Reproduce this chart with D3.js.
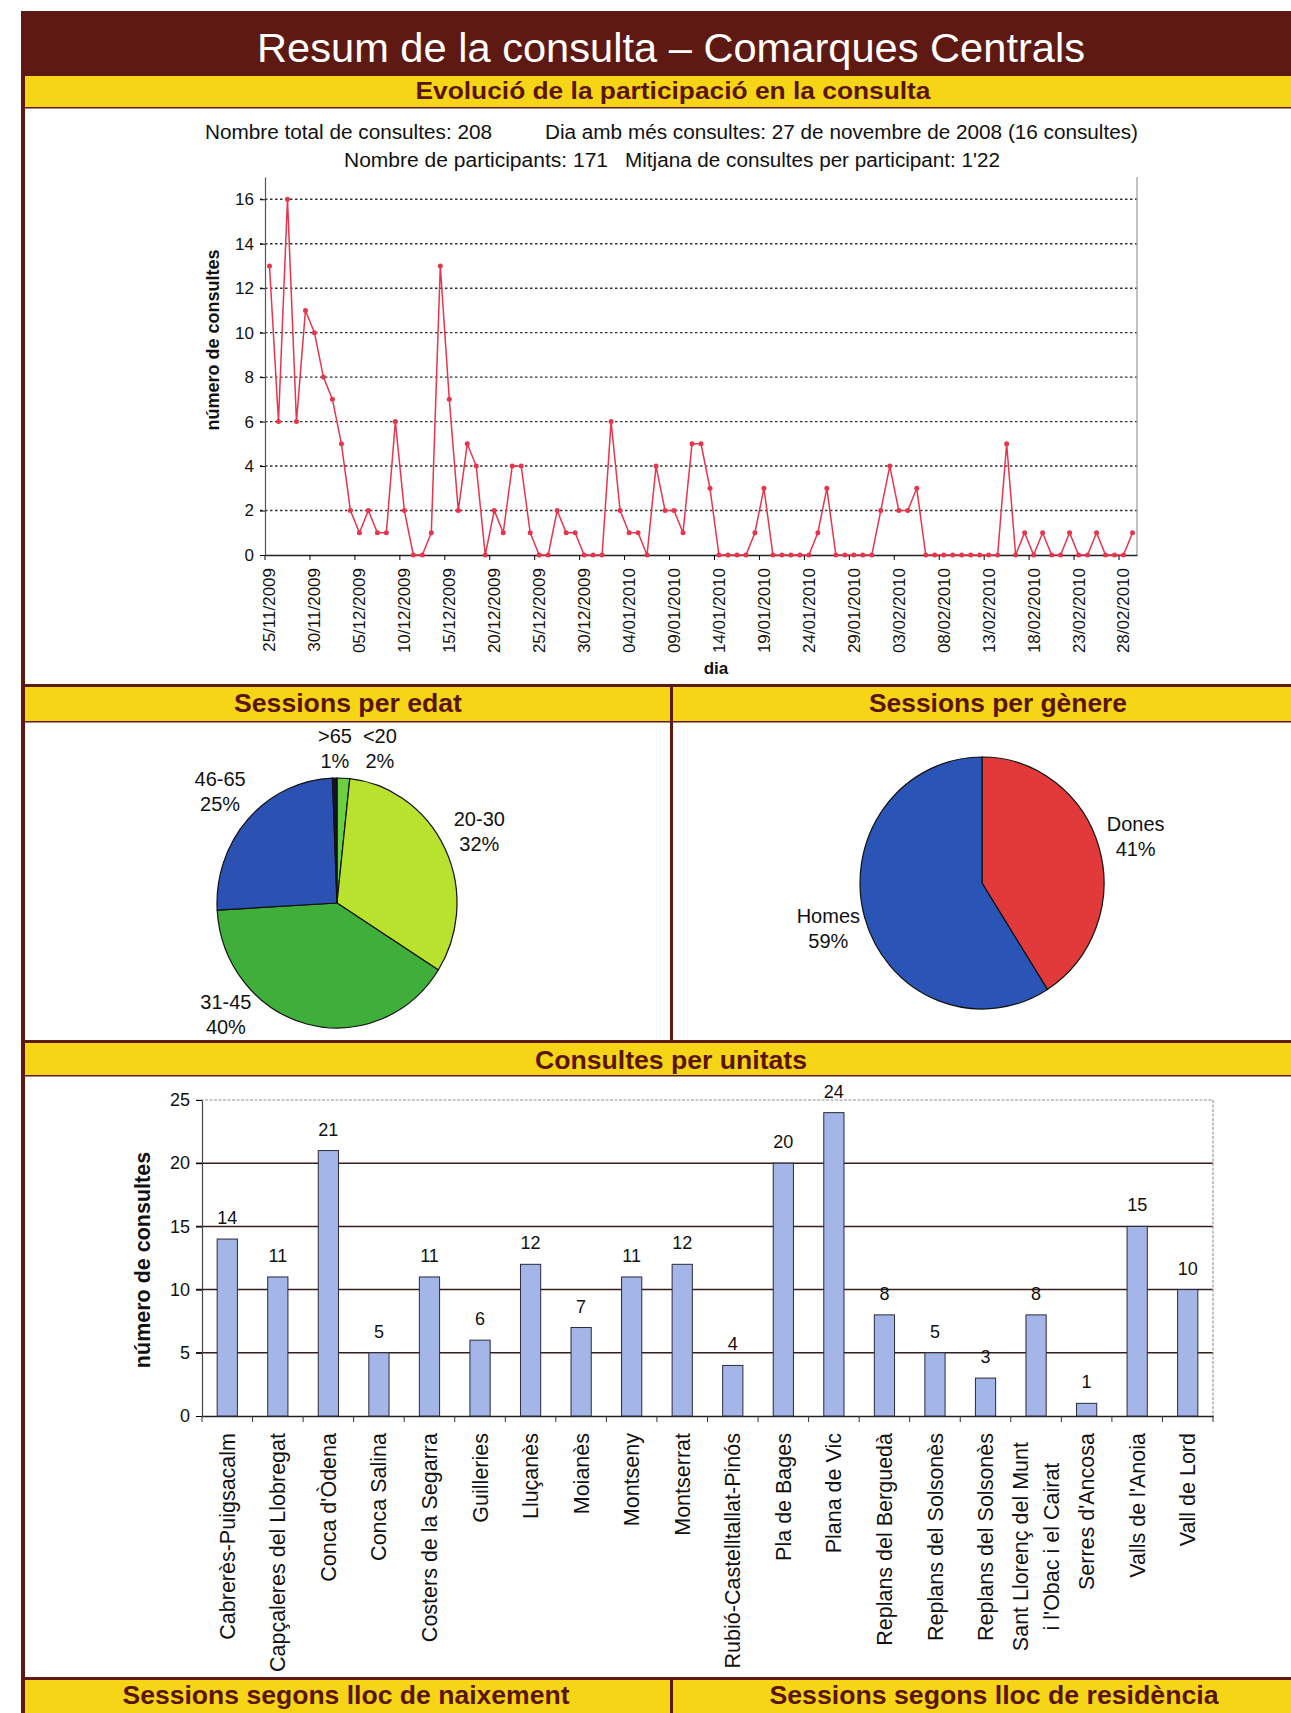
<!DOCTYPE html>
<html>
<head>
<meta charset="utf-8">
<script src="https://cdn.jsdelivr.net/npm/d3@7"></script>
<style>
	body { margin: 0; background: #fff; }
	text { font-family: "Liberation Sans", Arial, sans-serif; }
</style>
</head>
<body>
<svg id="page"></svg>
<script>
// Resum de la consulta - Comarques Centrals

// ---- data ----
var startDay = new Date(2009, 10, 25);
var dailyCounts = [13, 6, 16, 6, 11, 10, 8, 7, 5, 2,
	1, 2, 1, 1, 6, 2, 0, 0, 1, 13,
	7, 2, 5, 4, 0, 2, 1, 4, 4, 1,
	0, 0, 2, 1, 1, 0, 0, 0, 6, 2,
	1, 1, 0, 4, 2, 2, 1, 5, 5, 3,
	0, 0, 0, 0, 1, 3, 0, 0, 0, 0,
	0, 1, 3, 0, 0, 0, 0, 0, 2, 4,
	2, 2, 3, 0, 0, 0, 0, 0, 0, 0,
	0, 0, 5, 0, 1, 0, 1, 0, 0, 1,
	0, 0, 1, 0, 0, 0, 1];
var dayTickStep = 5;
var lineYTicks = [0, 2, 4, 6, 8, 10, 12, 14, 16];

var ageGroups = ["<20", "20-30", "31-45", "46-65", ">65"];
var agePercent = [1.7, 32.3, 40.1, 25.3, 0.6];

var genderGroups = ["Dones", "Homes"];
var genderPercent = [41, 59];

var units = ["Cabrerès-Puigsacalm", "Capçaleres del Llobregat", "Conca d'Òdena", "Conca Salina",
	"Costers de la Segarra", "Guilleries", "Lluçanès", "Moianès", "Montseny", "Montserrat",
	"Rubió-Castelltallat-Pinós", "Pla de Bages", "Plana de Vic", "Replans del Berguedà",
	"Replans del Solsonès", "Replans del Solsonès", "Sant Llorenç del Munt\ni l'Obac i el Cairat",
	"Serres d'Ancosa", "Valls de l'Anoia", "Vall de Lord"];
var unitCounts = [14, 11, 21, 5, 11, 6, 12, 7, 11, 12, 4, 20, 24, 8, 5, 3, 8, 1, 15, 10];
var barYTicks = [0, 5, 10, 15, 20, 25];

// ---- page ----
var W = 1291, H = 1713;
var MAROON = "#5e1912", YELLOW = "#f5d515", BAND_TEXT = "#5a1508", RED = "#e5364e";

var svg = d3.select("#page").attr("width", W).attr("height", H);
svg.append("rect").attr("width", W).attr("height", H).attr("fill", "#fff");

function createRect(x, y, w, h, fill) {
	return svg.append("rect")
		.attr("x", x).attr("y", y)
		.attr("width", w).attr("height", h)
		.attr("fill", fill);
}

function createText(str, x, y, size, opts) {
	opts = opts || {};
	var t = svg.append("text")
		.attr("x", x).attr("y", y)
		.attr("font-size", size)
		.attr("text-anchor", opts.anchor || "middle")
		.attr("font-weight", opts.bold ? "bold" : "normal")
		.attr("fill", opts.fill || "#111")
		.text(str);
	if (opts.len) t.attr("textLength", opts.len).attr("lengthAdjust", "spacingAndGlyphs");
	return t;
}

// frame and bands
createRect(21, 11, W - 21, 65, MAROON);
createRect(21, 11, 4, H - 11, MAROON);
createRect(25, 76, W - 25, 31, YELLOW);
createRect(25, 107, W - 25, 1.5, MAROON);

createRect(21, 684, W - 21, 3, MAROON);
createRect(25, 687, W - 25, 34, YELLOW);
createRect(25, 721, W - 25, 1.5, MAROON);
createRect(670, 684, 3, 357, MAROON);

createRect(21, 1040, W - 21, 3, MAROON);
createRect(25, 1043, W - 25, 32, YELLOW);
createRect(25, 1075, W - 25, 1.5, MAROON);

createRect(21, 1677, W - 21, 3, MAROON);
createRect(25, 1680, W - 25, 33, YELLOW);
createRect(670, 1677, 3, 36, MAROON);

createText("Resum de la consulta \u2013 Comarques Centrals", 671, 62, 41, {fill: "#fff", len: 828});
createText("Evolució de la participació en la consulta", 673, 99, 23, {bold: true, fill: BAND_TEXT, len: 515});
createText("Sessions per edat", 348, 712, 25, {bold: true, fill: BAND_TEXT, len: 228});
createText("Sessions per gènere", 998, 712, 25, {bold: true, fill: BAND_TEXT, len: 258});
createText("Consultes per unitats", 671, 1069, 25, {bold: true, fill: BAND_TEXT, len: 272});
createText("Sessions segons lloc de naixement", 346, 1704, 26, {bold: true, fill: BAND_TEXT, len: 447});
createText("Sessions segons lloc de residència", 994, 1704, 26, {bold: true, fill: BAND_TEXT, len: 449});

// summary lines
var total = d3.sum(dailyCounts);
var peak = d3.maxIndex(dailyCounts);
createText("Nombre total de consultes: " + total, 205, 139, 20, {anchor: "start", len: 287});
createText("Dia amb més consultes: 27 de novembre de 2008 (" + dailyCounts[peak] + " consultes)", 545, 139, 20, {anchor: "start", len: 593});
createText("Nombre de participants: 171", 344, 167, 20, {anchor: "start", len: 264});
createText("Mitjana de consultes per participant: 1'22", 625, 167, 20, {anchor: "start", len: 375});

// ---- line chart ----
var days = dailyCounts.map(function(d, i) { return d3.timeDay.offset(startDay, i); });
var fmtDay = d3.timeFormat("%d/%m/%Y");
var lx = d3.scaleBand().domain(d3.range(dailyCounts.length)).range([265, 1137]);
var ly = d3.scaleLinear().domain([0, 17]).range([555, 177]);
var lc = svg.append("g");

lc.selectAll("line.grid").data(lineYTicks.slice(1)).enter().append("line")
	.attr("x1", 260).attr("x2", 1137)
	.attr("y1", ly).attr("y2", ly)
	.attr("stroke", "#333").attr("stroke-width", 1.4)
	.attr("stroke-dasharray", "2.5,2.5");
lc.append("line")
	.attr("x1", 1137).attr("x2", 1137).attr("y1", 177).attr("y2", 555)
	.attr("stroke", "#999").attr("stroke-width", 1.2);

var gly = lc.append("g").attr("transform", "translate(265,0)")
	.call(d3.axisLeft(ly).tickValues(lineYTicks).tickSize(5).tickSizeOuter(0).tickPadding(6));
gly.select(".domain").attr("stroke", "#555").attr("stroke-width", 1.2);
gly.selectAll(".tick text").attr("font-size", 17).attr("font-family", "Liberation Sans, Arial").attr("fill", "#111");

var glx = lc.append("g").attr("transform", "translate(0,555)")
	.call(d3.axisBottom(lx)
		.tickValues(d3.range(0, dailyCounts.length, dayTickStep))
		.tickFormat(function(i) { return fmtDay(days[i]); })
		.tickSize(5).tickSizeOuter(0));
glx.select(".domain").attr("stroke", "#222").attr("stroke-width", 1.6);
glx.selectAll(".tick line").attr("transform", "translate(" + (-lx.bandwidth() / 2) + ",0)");
glx.selectAll(".tick text")
	.attr("transform", "rotate(-90)")
	.attr("text-anchor", "end")
	.attr("x", -13).attr("y", 0).attr("dy", "0.35em")
	.attr("font-size", 17).attr("font-family", "Liberation Sans, Arial").attr("fill", "#111");

var line = d3.line()
	.x(function(d, i) { return lx(i) + lx.bandwidth() / 2; })
	.y(function(d) { return ly(d); });
lc.append("path").datum(dailyCounts)
	.attr("d", line).attr("fill", "none")
	.attr("stroke", RED).attr("stroke-width", 1.5);
lc.selectAll("circle.pt").data(dailyCounts).enter().append("circle")
	.attr("cx", function(d, i) { return lx(i) + lx.bandwidth() / 2; })
	.attr("cy", function(d) { return ly(d); })
	.attr("r", 2.5).attr("fill", RED);

createText("número de consultes", 0, 0, 18, {bold: true})
	.attr("transform", "translate(219,340) rotate(-90)");
createText("dia", 716, 674, 17, {bold: true});

// ---- pies ----
// labelPos: optional [angle in degrees, radius] where Excel pushed a label away from its slice
function drawPie(values, names, cx, cy, rx, ry, colors, labelPos) {
	var k = ry / rx;
	var arcs = d3.pie().sort(null)(values);
	var arc = d3.arc().innerRadius(0).outerRadius(rx);
	svg.append("g")
		.attr("transform", "translate(" + cx + "," + cy + ") scale(1," + k + ")")
		.selectAll("path").data(arcs).enter().append("path")
		.attr("d", arc)
		.attr("fill", function(d, i) { return colors[i]; })
		.attr("stroke", "#111").attr("stroke-width", 1.2)
		.attr("vector-effect", "non-scaling-stroke");
	arcs.forEach(function(d, i) {
		var a = (d.startAngle + d.endAngle) / 2, R = rx + 38;
		if (labelPos[names[i]]) {
			a = labelPos[names[i]][0] * Math.PI / 180;
			R = labelPos[names[i]][1];
		}
		var px = cx + R * Math.sin(a), py = cy - R * Math.cos(a) * k;
		createText(names[i], px, py - 6, 20);
		createText(Math.round(values[i]) + "%", px, py + 19, 20);
	});
}

drawPie(agePercent, ageGroups, 337, 903, 120, 125,
	["#6bcf3f", "#b9e22f", "#3fae3a", "#2b51b3", "#141428"],
	{"<20": [16.2, 153.7], ">65": [-0.8, 147.6], "31-45": [225.9, 154.7]});
drawPie(genderPercent, genderGroups, 982, 883, 122, 126,
	["#e23a3a", "#2a55b6"], {});

// ---- bar chart ----
var bx = d3.scaleBand().domain(d3.range(units.length)).range([202, 1213])
	.paddingInner(0.6).paddingOuter(0.3);
var by = d3.scaleLinear().domain([0, 25]).range([1416, 1100]);
var bc = svg.append("g");

bc.selectAll("line.grid").data(barYTicks.slice(1, -1)).enter().append("line")
	.attr("x1", 196).attr("x2", 1213)
	.attr("y1", by).attr("y2", by)
	.attr("stroke", "#3a1c1c").attr("stroke-width", 1.5);
bc.append("line")
	.attr("x1", 196).attr("x2", 1213).attr("y1", by(25)).attr("y2", by(25))
	.attr("stroke", "#8a9090").attr("stroke-width", 1.2).attr("stroke-dasharray", "3,1.5");
bc.append("line")
	.attr("x1", 1213).attr("x2", 1213).attr("y1", by(25)).attr("y2", by(0))
	.attr("stroke", "#999").attr("stroke-width", 1.2).attr("stroke-dasharray", "3,1.5");

var gby = bc.append("g").attr("transform", "translate(202,0)")
	.call(d3.axisLeft(by).tickValues(barYTicks).tickSize(6).tickSizeOuter(0).tickPadding(6));
gby.select(".domain").attr("stroke", "#444").attr("stroke-width", 1.2);
gby.selectAll(".tick text").attr("font-size", 18).attr("font-family", "Liberation Sans, Arial").attr("fill", "#111");

var gbx = bc.append("g").attr("transform", "translate(0,1416)")
	.call(d3.axisBottom(bx).tickFormat("").tickSize(6).tickSizeOuter(0));
gbx.select(".domain").attr("stroke", "#222").attr("stroke-width", 1.5);
gbx.selectAll(".tick line").attr("transform", "translate(" + (-bx.step() / 2) + ",0)").attr("stroke", "#333");
gbx.append("line").attr("x1", 1213).attr("x2", 1213).attr("y1", 0).attr("y2", 6).attr("stroke", "#333");

bc.selectAll("rect.bar").data(unitCounts).enter().append("rect")
	.attr("x", function(d, i) { return bx(i); })
	.attr("y", function(d) { return by(d); })
	.attr("width", bx.bandwidth())
	.attr("height", function(d) { return by(0) - by(d); })
	.attr("fill", "#a4b6e8").attr("stroke", "#2a2a3a").attr("stroke-width", 1);

bc.selectAll("text.val").data(unitCounts).enter().append("text")
	.attr("x", function(d, i) { return bx(i) + bx.bandwidth() / 2; })
	.attr("y", function(d) { return by(d) - 15; })
	.attr("text-anchor", "middle").attr("font-size", 18).attr("fill", "#111")
	.text(function(d) { return d; });

units.forEach(function(name, i) {
	var cx = bx(i) + bx.bandwidth() / 2;
	var lines = name.split("\n");
	var g = bc.append("g").attr("transform", "translate(" + cx + ",1433) rotate(-90)");
	if (lines.length === 1) {
		g.append("text").attr("text-anchor", "end").attr("dy", "0.35em")
			.attr("font-size", 21.5).attr("fill", "#111").text(name);
	} else {
		var t1 = g.append("text").attr("x", -9).attr("y", -16).attr("text-anchor", "end").attr("dy", "0.35em")
			.attr("font-size", 21.5).attr("fill", "#111").text(lines[0]);
		var L = t1.node().getComputedTextLength();
		g.append("text").attr("x", -9 - L / 2).attr("y", 15).attr("text-anchor", "middle").attr("dy", "0.35em")
			.attr("font-size", 21.5).attr("fill", "#111").text(lines[1]);
	}
});

createText("número de consultes", 0, 0, 21.5, {bold: true})
	.attr("transform", "translate(150,1260) rotate(-90)");
</script>
</body>
</html>
